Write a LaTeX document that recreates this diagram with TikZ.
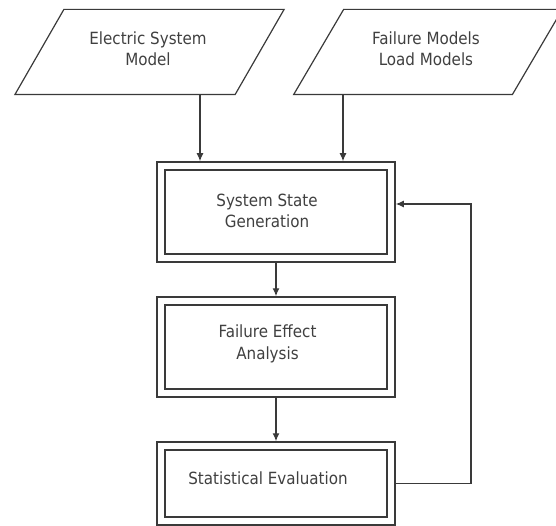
\documentclass[tikz,border=0pt]{standalone}
\usepackage{fontspec}
\newfontfamily\labfont{DejaVu Sans Condensed}
\usetikzlibrary{arrows.meta,calc}
\definecolor{linec}{HTML}{3A3A3A}
\definecolor{textc}{HTML}{404040}
\tikzset{
  lbl/.style={font=\labfont\fontsize{16.8pt}{21.5pt}\selectfont, text=textc, align=center, inner sep=0pt},
  iobody/.style={rectangle, inner sep=0pt, outer sep=0.6pt, minimum height=84pt},
  iodraw/.style={draw=linec, line width=1.2pt, line join=miter},
  dbox/.style={rectangle, draw=linec, double=white, line width=1.5pt, double distance=6.5pt,
    outer sep=4.75pt, inner sep=0pt, minimum width=230pt},
  arr/.style={draw=linec, line width=1.2pt, -{Latex[length=8pt,width=7pt]}},
}
\begin{document}
\begin{tikzpicture}[x=1pt,y=-1pt]
\useasboundingbox (0,0) rectangle (556,526);
\clip (0,0) rectangle (556,526);
\node[iobody, minimum width=219pt] (esm) at (149.5,52) {};
\draw[iodraw] ($(esm.north west)+(24.5,0)$) -- ($(esm.north east)+(24.5,0)$)
  -- ($(esm.south east)+(-24.5,0)$) -- ($(esm.south west)+(-24.5,0)$) -- cycle;
\node[lbl] (esmt) at (148,48.5) {Electric System\\Model};
\node[iobody, minimum width=217.5pt] (fm) at (428,52) {};
\draw[iodraw] ($(fm.north west)+(25,0)$) -- ($(fm.north east)+(25,0)$)
  -- ($(fm.south east)+(-25,0)$) -- ($(fm.south west)+(-25,0)$) -- cycle;
\node[lbl] (fmt) at (426,48.5) {Failure Models\\Load Models};
\node[dbox, minimum height=92pt] (sg) at (276,212) {};
\node[lbl] (sgt) at (267,211) {System State\\Generation};
\node[dbox, minimum height=92pt] (fe) at (276,347) {};
\node[lbl] (fet) at (267.5,344) {Failure Effect\\Analysis};
\node[dbox, minimum height=75pt] (st) at (276,483.5) {};
\node[lbl] (stt) at (268,478.5) {Statistical Evaluation};
\coordinate (x1) at (200,0);
\coordinate (x2) at (343,0);
\coordinate (fb) at (471,204);
\draw[arr] (esm.south -| x1) -- (sg.north -| x1);
\draw[arr] (fm.south -| x2) -- (sg.north -| x2);
\draw[arr] (sg.south) -- (fe.north);
\draw[arr] (fe.south) -- (st.north);
\draw[arr] (st.east) -| (fb) -- (fb -| sg.east);
\end{tikzpicture}
\end{document}
